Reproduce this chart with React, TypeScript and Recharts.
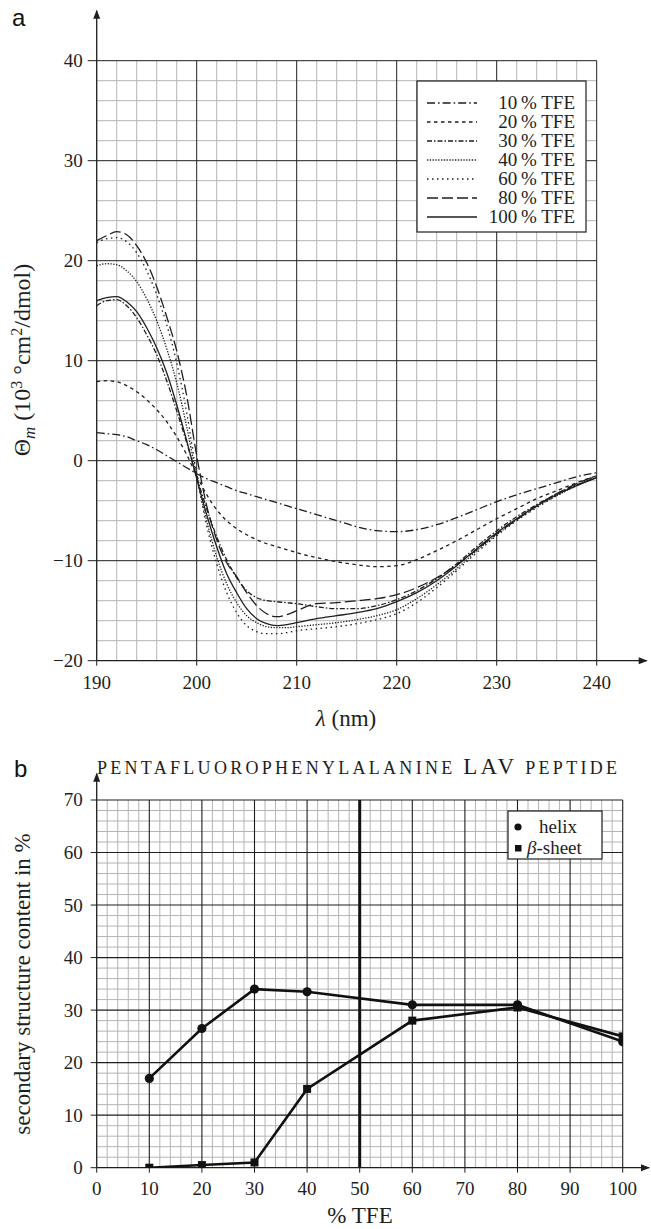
import React from "react";
import { LineChart, Line, XAxis, YAxis, ReferenceLine, ReferenceDot } from "recharts";

// ---------- Panel a: CD spectra ----------
const wavelengths = [190, 191, 192, 193, 194, 195, 196, 197, 198, 199, 200, 201, 202, 203, 204, 205, 206, 207, 208, 209, 210, 212, 214, 216, 218, 220, 222, 224, 226, 228, 230, 232, 234, 236, 238, 240];
const tfe10 = [2.8, 2.7, 2.6, 2.4, 2.0, 1.6, 1.1, 0.5, -0.1, -0.7, -1.3, -1.8, -2.2, -2.6, -3.0, -3.3, -3.6, -3.9, -4.2, -4.5, -4.8, -5.4, -6.0, -6.6, -7.0, -7.1, -6.9, -6.4, -5.7, -4.9, -4.1, -3.4, -2.8, -2.2, -1.6, -1.2];
const tfe20 = [7.9, 8.0, 7.9, 7.5, 6.9, 6.1, 5.1, 3.9, 2.4, 0.6, -1.5, -3.4, -4.9, -6.0, -6.8, -7.4, -7.9, -8.3, -8.6, -8.9, -9.2, -9.7, -10.1, -10.4, -10.6, -10.5, -9.9, -9.0, -8.0, -6.9, -5.8, -4.8, -3.8, -3.0, -2.2, -1.5];
const tfe30 = [15.5, 16.0, 16.1, 15.5, 14.3, 12.6, 10.6, 8.0, 5.0, 1.8, -1.6, -4.8, -7.6, -9.9, -11.7, -13.0, -13.7, -14.0, -14.1, -14.2, -14.3, -14.6, -14.8, -14.8, -14.5, -13.9, -13.0, -11.8, -10.3, -8.6, -7.0, -5.6, -4.4, -3.3, -2.4, -1.7];
const tfe40 = [19.5, 19.7, 19.6, 19.0, 17.9, 16.2, 14.0, 11.2, 7.8, 3.4, -1.6, -6.0, -9.6, -12.3, -14.2, -15.5, -16.2, -16.6, -16.7, -16.7, -16.6, -16.4, -16.2, -15.9, -15.5, -14.9, -13.8, -12.4, -10.8, -9.0, -7.4, -5.9, -4.6, -3.5, -2.5, -1.7];
const tfe60 = [21.8, 22.2, 22.3, 21.9, 20.8, 19.0, 16.6, 13.6, 9.8, 4.8, -1.4, -6.5, -10.3, -13.2, -15.2, -16.5, -17.1, -17.3, -17.3, -17.2, -17.0, -16.8, -16.6, -16.3, -15.9, -15.3, -14.2, -12.7, -11.0, -9.2, -7.5, -6.0, -4.7, -3.5, -2.5, -1.6];
const tfe80 = [22.0, 22.5, 22.9, 22.6, 21.5, 19.8, 17.4, 14.4, 11.0, 6.5, 0.5, -4.5, -7.9, -10.2, -11.6, -13.2, -14.5, -15.3, -15.6, -15.4, -15.0, -14.3, -14.2, -14.0, -13.8, -13.4, -12.7, -11.7, -10.4, -8.9, -7.3, -5.9, -4.5, -3.3, -2.3, -1.5];
const tfe100 = [16.0, 16.3, 16.4, 15.9, 14.9, 13.3, 11.3, 8.8, 5.6, 2.0, -1.8, -5.4, -8.6, -11.3, -13.2, -14.8, -15.8, -16.3, -16.5, -16.4, -16.2, -15.8, -15.5, -15.2, -14.8, -14.1, -13.2, -12.0, -10.5, -8.8, -7.2, -5.8, -4.5, -3.4, -2.5, -1.7];

const cdXTicks = [190, 200, 210, 220, 230, 240];
const cdYTicks = [-20, -10, 0, 10, 20, 30, 40];

const cdSeries = [
  { key: "t10", label: "10\u2009% TFE", values: tfe10, dash: "8 3 1.6 3" },
  { key: "t20", label: "20\u2009% TFE", values: tfe20, dash: "3.5 3.5" },
  { key: "t30", label: "30\u2009% TFE", values: tfe30, dash: "5 2 1.5 2" },
  { key: "t40", label: "40\u2009% TFE", values: tfe40, dash: "1.3 1.5" },
  { key: "t60", label: "60\u2009% TFE", values: tfe60, dash: "1.5 3.5" },
  { key: "t80", label: "80\u2009% TFE", values: tfe80, dash: "11 4" },
  { key: "t100", label: "100\u2009% TFE", values: tfe100, dash: undefined as string | undefined },
];

const cdData = wavelengths.map((w, i) => {
  const row: Record<string, number> = { w };
  cdSeries.forEach((s) => {
    row[s.key] = s.values[i];
  });
  return row;
});

// ---------- Panel b: secondary structure ----------
const tfePercent = [10, 20, 30, 40, 60, 80, 100];
const helixContent = [17, 26.5, 34, 33.5, 31, 31, 24];
const sheetContent = [0, 0.5, 1, 15, 28, 30.5, 25];
const ssXTicks = [0, 10, 20, 30, 40, 50, 60, 70, 80, 90, 100];
const ssYTicks = [0, 10, 20, 30, 40, 50, 60, 70];

const ssData = tfePercent.map((t, i) => ({ t, helix: helixContent[i], sheet: sheetContent[i] }));

// grid helper values
const range = (a: number, b: number, step: number) => {
  const out: number[] = [];
  for (let v = a; v <= b + 1e-9; v += step) out.push(Math.round(v * 1000) / 1000);
  return out;
};
const cdMinorX = range(192, 238, 2).filter((v) => v % 10 !== 0);
const cdMinorY = range(-18, 38, 2).filter((v) => v % 10 !== 0);
const cdMajorX = [200, 210, 220, 230, 240];
const cdMajorY = [-10, 0, 10, 20, 30, 40];
const ssMinorX = range(2, 98, 2).filter((v) => v % 10 !== 0);
const ssMinorY = range(2, 68, 2).filter((v) => v % 10 !== 0);
const ssMajorX = [10, 20, 30, 40, 60, 70, 80, 90, 100];
const ssMajorY = [10, 20, 30, 40, 50, 60, 70];

const SERIF = "'Liberation Serif', 'DejaVu Serif', serif";
const SANS = "'Liberation Sans', Arial, sans-serif";
const INK = "#1e1e1e";
const MINOR = "#b4b4b4";
const fmtMinus = (v: number) => String(v).replace("-", "\u2212");

const XTick = (p: any) => (
  <text x={p.x} y={p.y} dy="0.71em" textAnchor="middle" style={{ fontFamily: SERIF, fontSize: 19 }} fill={INK}>
    {fmtMinus(p.payload.value)}
  </text>
);
const YTick = (p: any) => (
  <text x={p.x} y={p.y} dy="0.34em" textAnchor="end" style={{ fontFamily: SERIF, fontSize: 19 }} fill={INK}>
    {fmtMinus(p.payload.value)}
  </text>
);

const arrowRight = (p: any) => (
  <path d={`M${p.cx + 1},${p.cy} L${p.cx - 8},${p.cy - 3.5} L${p.cx - 8},${p.cy + 3.5} Z`} fill={INK} />
);
const arrowUp = (p: any) => (
  <path d={`M${p.cx},${p.cy - 1} L${p.cx - 3.5},${p.cy + 8} L${p.cx + 3.5},${p.cy + 8} Z`} fill={INK} />
);

const HelixDot = (p: any) => <circle key={`h${p.index}`} cx={p.cx} cy={p.cy} r={4.6} fill="#111" />;
const SheetDot = (p: any) => <rect key={`s${p.index}`} x={p.cx - 4} y={p.cy - 4} width={8} height={8} fill="#111" />;

const serifText = (size: number) => ({ fontFamily: SERIF, fontSize: size });

export default function App() {
  return (
    <div style={{ position: "absolute", left: 0, top: 0, width: 651, height: 1229, background: "#fff", fontFamily: SERIF }}>
      {/* Panel a */}
      <div style={{ position: "absolute", left: 0, top: 0 }}>
        <LineChart width={651} height={720} data={cdData} margin={{ top: 60.7, right: 54.3, left: 36.7, bottom: 29.3 }}>
          <XAxis
            dataKey="w"
            type="number"
            domain={[190, 240]}
            ticks={cdXTicks}
            allowDataOverflow
            height={30}
            axisLine={false}
            tickLine={{ stroke: INK }}
            tickSize={5}
            tickMargin={10}
            tick={XTick}
          />
          <YAxis
            type="number"
            domain={[-20, 40]}
            ticks={cdYTicks}
            allowDataOverflow
            width={60}
            axisLine={false}
            tickLine={{ stroke: INK }}
            tickSize={9}
            tickMargin={5}
            tick={YTick}
          />
          {cdMinorX.map((v) => (
            <ReferenceLine key={`cmx${v}`} x={v} stroke={MINOR} strokeWidth={1} />
          ))}
          {cdMinorY.map((v) => (
            <ReferenceLine key={`cmy${v}`} y={v} stroke={MINOR} strokeWidth={1} />
          ))}
          {cdMajorX.map((v) => (
            <ReferenceLine key={`cMx${v}`} x={v} stroke={INK} strokeWidth={1} />
          ))}
          {cdMajorY.map((v) => (
            <ReferenceLine key={`cMy${v}`} y={v} stroke={INK} strokeWidth={1} />
          ))}
          <ReferenceLine segment={[{ x: 190, y: -20 }, { x: 245, y: -20 }]} stroke={INK} strokeWidth={1.3} ifOverflow="visible" />
          <ReferenceLine segment={[{ x: 190, y: -20 }, { x: 190, y: 45 }]} stroke={INK} strokeWidth={1.3} ifOverflow="visible" />
          <ReferenceDot x={245} y={-20} r={3} ifOverflow="visible" shape={arrowRight} />
          <ReferenceDot x={190} y={45} r={3} ifOverflow="visible" shape={arrowUp} />
          {cdSeries.map((s) => (
            <Line
              key={s.key}
              type="monotone"
              dataKey={s.key}
              stroke={INK}
              strokeWidth={1.3}
              strokeDasharray={s.dash}
              dot={false}
              isAnimationActive={false}
            />
          ))}
        </LineChart>
      </div>

      {/* Panel b */}
      <div style={{ position: "absolute", left: 0, top: 740 }}>
        <LineChart width={651} height={489} data={ssData} margin={{ top: 60, right: 28.3, left: 36.7, bottom: 31.3 }}>
          <XAxis
            dataKey="t"
            type="number"
            domain={[0, 100]}
            ticks={ssXTicks}
            allowDataOverflow
            height={30}
            axisLine={false}
            tickLine={{ stroke: INK }}
            tickSize={5}
            tickMargin={9}
            tick={XTick}
          />
          <YAxis
            type="number"
            domain={[0, 70]}
            ticks={ssYTicks}
            allowDataOverflow
            width={60}
            axisLine={false}
            tickLine={{ stroke: INK }}
            tickSize={6}
            tickMargin={8}
            tick={YTick}
          />
          {ssMinorX.map((v) => (
            <ReferenceLine key={`smx${v}`} x={v} stroke={MINOR} strokeWidth={1} />
          ))}
          {ssMinorY.map((v) => (
            <ReferenceLine key={`smy${v}`} y={v} stroke={MINOR} strokeWidth={1} />
          ))}
          {ssMajorX.map((v) => (
            <ReferenceLine key={`sMx${v}`} x={v} stroke={INK} strokeWidth={1.1} />
          ))}
          {ssMajorY.map((v) => (
            <ReferenceLine key={`sMy${v}`} y={v} stroke={INK} strokeWidth={1.1} />
          ))}
          <ReferenceLine x={50} stroke="#111" strokeWidth={3} />
          <ReferenceLine segment={[{ x: 0, y: 0 }, { x: 105, y: 0 }]} stroke={INK} strokeWidth={1.3} ifOverflow="visible" />
          <ReferenceLine segment={[{ x: 0, y: 0 }, { x: 0, y: 75 }]} stroke={INK} strokeWidth={1.3} ifOverflow="visible" />
          <ReferenceDot x={105} y={0} r={3} ifOverflow="visible" shape={arrowRight} />
          <ReferenceDot x={0} y={75} r={3} ifOverflow="visible" shape={arrowUp} />
          <Line type="linear" dataKey="helix" stroke="#111" strokeWidth={2.6} dot={HelixDot} isAnimationActive={false} />
          <Line type="linear" dataKey="sheet" stroke="#111" strokeWidth={2.6} dot={SheetDot} isAnimationActive={false} />
        </LineChart>
      </div>

      {/* Text annotations and legends */}
      <svg width={651} height={1229} style={{ position: "absolute", left: 0, top: 0, pointerEvents: "none" }}>
        <text x={12} y={26} style={{ fontFamily: SANS, fontSize: 24 }} fill="#111">a</text>
        <text x={14} y={777} style={{ fontFamily: SANS, fontSize: 24 }} fill="#111">b</text>

        {/* panel a axis titles */}
        <text x={346} y={726} textAnchor="middle" style={serifText(23)} fill={INK}>
          <tspan fontStyle="italic">λ</tspan> (nm)
        </text>
        <text x={30} y={360} textAnchor="middle" transform="rotate(-90 30 360)" style={serifText(24)} fill={INK}>
          Θ<tspan dy={5} fontSize={17} fontStyle="italic">m</tspan>
          <tspan dy={-5}> (10</tspan>
          <tspan dy={-8} fontSize={16}>3</tspan>
          <tspan dy={8}> °cm</tspan>
          <tspan dy={-8} fontSize={16}>2</tspan>
          <tspan dy={8}>/dmol)</tspan>
        </text>

        {/* panel a legend */}
        <rect x={417} y={81} width={169} height={151} fill="#fff" stroke={INK} strokeWidth={1.2} />
        {cdSeries.map((s, i) => (
          <g key={`lg${s.key}`}>
            <line x1={427} x2={477} y1={103 + i * 19} y2={103 + i * 19} stroke={INK} strokeWidth={1.3} strokeDasharray={s.dash} />
            <text x={575} y={109 + i * 19} textAnchor="end" style={serifText(19)} fill={INK}>
              {s.label}
            </text>
          </g>
        ))}

        {/* panel b title and axis titles */}
        <text x={357} y={774} textAnchor="middle" style={serifText(18)} fill={INK} textLength={520} lengthAdjust="spacing">
          PENTAFLUOROPHENYLALANINE <tspan fontSize={23}>LAV</tspan> PEPTIDE
        </text>
        <text x={360} y={1223} textAnchor="middle" style={serifText(23)} fill={INK}>
          % TFE
        </text>
        <text x={30} y={984} textAnchor="middle" transform="rotate(-90 30 984)" style={serifText(23)} fill={INK}>
          secondary structure content in %
        </text>

        {/* panel b legend */}
        <rect x={508} y={811} width={94} height={48} fill="#fff" stroke={INK} strokeWidth={1.2} />
        <circle cx={518} cy={827} r={3.6} fill="#111" />
        <text x={539} y={833} style={serifText(19)} fill={INK}>helix</text>
        <rect x={515} y={845} width={6.5} height={6.5} fill="#111" />
        <text x={527} y={853.5} style={serifText(19)} fill={INK}>
          <tspan fontStyle="italic">β</tspan>-sheet
        </text>
      </svg>
    </div>
  );
}
